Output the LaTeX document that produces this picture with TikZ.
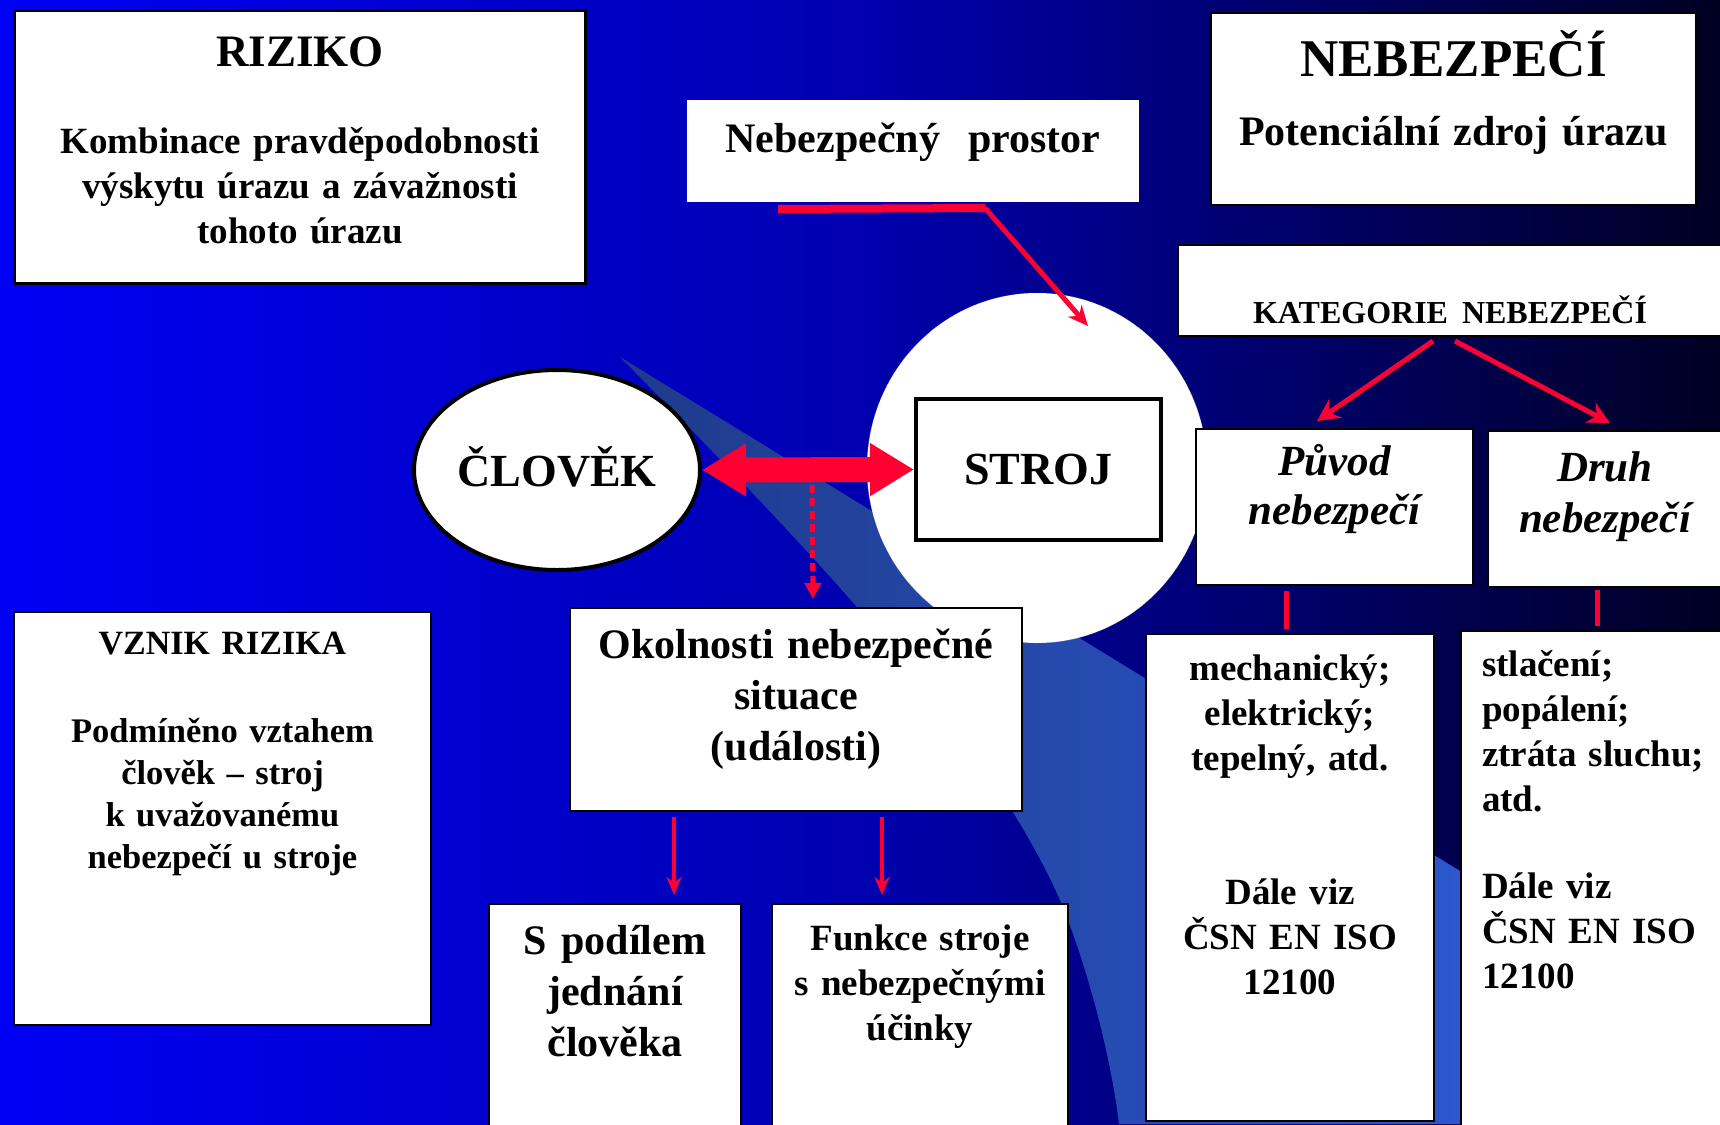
\documentclass[tikz,border=0pt]{standalone}
\usepackage{fontspec}
\setmainfont{Liberation Serif}
\usetikzlibrary{arrows.meta,shapes.geometric}
\definecolor{bgleft}{RGB}{0,0,245}
\definecolor{bgmid}{RGB}{0,0,175}
\definecolor{bgright}{RGB}{0,0,35}
\definecolor{bandleft}{RGB}{30,58,138}
\definecolor{bandright}{RGB}{48,96,226}
\definecolor{arrowred}{RGB}{255,0,51}

\begin{document}
\begin{tikzpicture}[x=1pt,y=-1pt,>={Stealth[length=20pt,width=18pt]}]
\tikzstyle{box}=[draw=black,fill=white,line width=2pt,inner sep=0pt,align=center,anchor=north west]
\tikzstyle{link}=[draw=arrowred,line width=5pt]
\useasboundingbox (0,0) rectangle (1720,1124);
\clip (0,0) rectangle (1720,1124);
% background
\shade[left color=bgleft,right color=bgright,middle color=bgmid] (0,0) rectangle (1720,1124);
\shade[left color=bandleft,right color=bandright] (620,357) .. controls (780,520) and (980,720) .. (1060,900)
  .. controls (1085,960) and (1110,1050) .. (1119,1124) -- (1720,1124) -- (1720,1030) -- cycle;
% boxes
\node[box,line width=3pt,text width=571pt,text height=56pt,text depth=217pt,font=\fontsize{37}{45}\selectfont\bfseries] (Riziko) at (13,9)
  {{\fontsize{45}{45}\selectfont RIZIKO}\\[42pt]Kombinace pravděpodobnosti\\ výskytu úrazu a závažnosti\\ tohoto úrazu};
\node[box,draw=none,text width=452pt,text height=52pt,text depth=50pt,font=\fontsize{42}{50}\selectfont\bfseries] (Prostor) at (686,99) {Nebezpečný\ \ prostor};
\node[box,text width=485pt,text height=63pt,text depth=129pt,font=\fontsize{42}{50}\selectfont\bfseries] (Nebezpeci) at (1210,12)
  {{\fontsize{53}{53}\selectfont NEBEZPEČÍ}\\[20pt]Potenciální zdroj úrazu};
\node[box,text width=544pt,text height=78pt,text depth=13pt,font=\fontsize{32}{36}\selectfont\bfseries] (Kategorie) at (1177,244) {KATEGORIE\hspace{14pt}NEBEZPEČÍ};
\node[ellipse,draw=gray!70,densely dotted,fill=white,minimum width=340pt,minimum height=350pt,inner sep=0pt] (Zona) at (1037,468) {};
\node[draw,fill=white,line width=4pt,minimum width=245pt,minimum height=141pt,inner sep=0pt,font=\fontsize{46}{46}\selectfont\bfseries] (Stroj) at (1038.5,469.5) {STROJ};
\node[ellipse,draw,fill=white,line width=4pt,minimum width=286pt,minimum height=200pt,inner sep=0pt,text height=32pt,text depth=0pt,font=\fontsize{46}{46}\selectfont\bfseries] (Clovek) at (557,470) {ČLOVĚK};
\node[box,text width=452pt,text height=50pt,text depth=153pt,font=\fontsize{42}{51}\selectfont\bfseries] (Okolnosti) at (569,607)
  {Okolnosti nebezpečné\\ situace\\ (události)};
\node[box,text width=417pt,text height=42pt,text depth=371pt,font=\fontsize{34.5}{42}\selectfont\bfseries] (Vznik) at (13,611)
  {{\fontsize{34}{42}\selectfont VZNIK RIZIKA}\\[46pt]Podmíněno vztahem\\ člověk – stroj\\ k uvažovanému\\ nebezpečí u stroje};
\node[box,text width=252pt,text height=50pt,text depth=200pt,font=\fontsize{42}{51}\selectfont\bfseries] (Podil) at (488,903) {S podílem\\ jednání\\ člověka};
\node[box,text width=296pt,text height=46pt,text depth=200pt,font=\fontsize{37}{45}\selectfont\bfseries] (Funkce) at (771,903) {Funkce stroje\\ s nebezpečnými\\ účinky};
\node[box,text width=277pt,text height=46pt,text depth=110pt,font=\fontsize{43}{49}\selectfont\bfseries\itshape] (Puvod) at (1195,428) {Původ\\ nebezpečí};
\node[box,text width=234pt,text height=50pt,text depth=106pt,font=\fontsize{43}{51}\selectfont\bfseries\itshape] (Druh) at (1487,430) {Druh\\ nebezpečí};
\node[box,text width=288pt,text height=46pt,text depth=441pt,font=\fontsize{37}{45}\selectfont\bfseries] (Mech) at (1145,633)
  {mechanický;\\ elektrický;\\ tepelný, atd.\\[89pt] Dále viz\\ ČSN EN ISO\\ 12100};
\node[box,align=left,inner xsep=21pt,text width=250pt,text height=45pt,text depth=500pt,font=\fontsize{37}{45}\selectfont\bfseries] (Stlaceni) at (1460,630)
  {stlačení;\\ popálení;\\ ztráta sluchu;\\ atd.\\[42pt] Dále viz\\ ČSN EN ISO\\ 12100};
% connectors
\coordinate (Knee) at (985,208);
\coordinate (ZonaTip) at (1088,326);
\coordinate (Vztah) at (812,485);
\draw[link,line width=8pt] ([xshift=92pt,yshift=-6pt]Prostor.south west) -- (Knee);
\draw[link,->] (Knee) -- (ZonaTip);
\draw[arrowred,line width=25pt,{Triangle[length=44pt,width=50pt]}-{Triangle[length=44pt,width=50pt]}] (Clovek.east) -- (Stroj.west);
\draw[link,dash pattern=on 8pt off 5pt,-{Triangle[length=16pt,width=16pt]}] (Vztah) -- ([xshift=17pt,yshift=8pt]Okolnosti.north);
\draw[link,line width=4pt,-{Stealth[length=18pt,width=15pt]}] ([xshift=105pt,yshift=-5pt]Okolnosti.south west) -- ([xshift=186pt,yshift=8pt]Podil.north west);
\draw[link,line width=4pt,-{Stealth[length=18pt,width=15pt]}] ([xshift=313pt,yshift=-5pt]Okolnosti.south west) -- ([xshift=111pt,yshift=8pt]Funkce.north west);
\draw[link,-{Stealth[length=22pt,width=22pt]}] ([xshift=256pt,yshift=-4pt]Kategorie.south west) -- ([xshift=122pt,yshift=7pt]Puvod.north west);
\draw[link,-{Stealth[length=22pt,width=22pt]}] ([xshift=278pt,yshift=-4pt]Kategorie.south west) -- ([xshift=123pt,yshift=7pt]Druh.north west);
\draw[link] ([xshift=91pt,yshift=-5pt]Puvod.south west) -- ([xshift=141pt,yshift=4pt]Mech.north west);
\draw[link] ([xshift=110pt,yshift=-2pt]Druh.south west) -- ([xshift=137pt,yshift=4pt]Stlaceni.north west);
\end{tikzpicture}
\end{document}
